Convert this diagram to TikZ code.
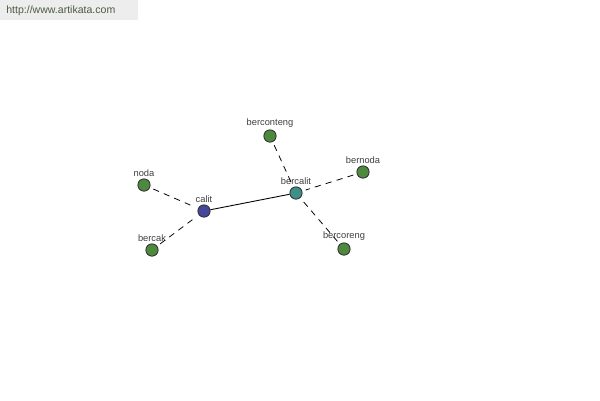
\documentclass[tikz,border=0pt]{standalone}
\usepackage{fontspec}
\setmainfont{Liberation Sans}
\usepackage{tikz}
\usetikzlibrary{positioning,calc}

\definecolor{leafgreen}{HTML}{4E8A3E}
\definecolor{rootblue}{HTML}{44479A}
\definecolor{midteal}{HTML}{3E8F8A}
\definecolor{marktext}{HTML}{4A5A40}

\begin{document}
\begin{tikzpicture}[x=0.02cm, y=-0.02cm,
    word/.style={draw=black!80, circle, inner sep=0pt, minimum size=7pt, line width=0.5pt, fill=leafgreen,
        label={[text=black!75, font=\fontsize{5.3}{6}\selectfont, inner sep=1pt]above:#1}},
    root/.style={word=#1, fill=rootblue},
    mid/.style={word=#1, fill=midteal},
    rel/.style={dash pattern=on 3.5pt off 3pt, line width=0.45pt, shorten >=2pt, shorten <=2pt},
    link/.style={line width=0.5pt}]

% Frame
\useasboundingbox (0,0) rectangle (600,400);
\fill[white] (0,0) rectangle (600,400);

% Site mark
\fill[black!7] (0,0) rectangle (138,20);
\node[anchor=west, text=marktext, font=\fontsize{6}{7}\selectfont, inner sep=0pt] (site) at (6,11) {http://www.artikata.com};

% Words
\node[root=calit] (calit) at (204,211) {};
\node[mid=bercalit] (bercalit) at (296,193) {};
\node[word=noda] (noda) at (144,185) {};
\node[word=bercak] (bercak) at (152,250) {};
\node[word=berconteng] (berconteng) at (270,136) {};
\node[word=bernoda] (bernoda) at (363,172) {};
\node[word=bercoreng] (bercoreng) at (344,249) {};

% Relations
\draw[link] (calit) -- (bercalit);
\draw[rel] (noda) -- (calit);
\draw[rel] (bercak) -- (calit);
\draw[rel] (berconteng) -- (bercalit);
\draw[rel] (bernoda) -- (bercalit);
\draw[rel] (bercoreng) -- (bercalit);
\end{tikzpicture}
\end{document}
